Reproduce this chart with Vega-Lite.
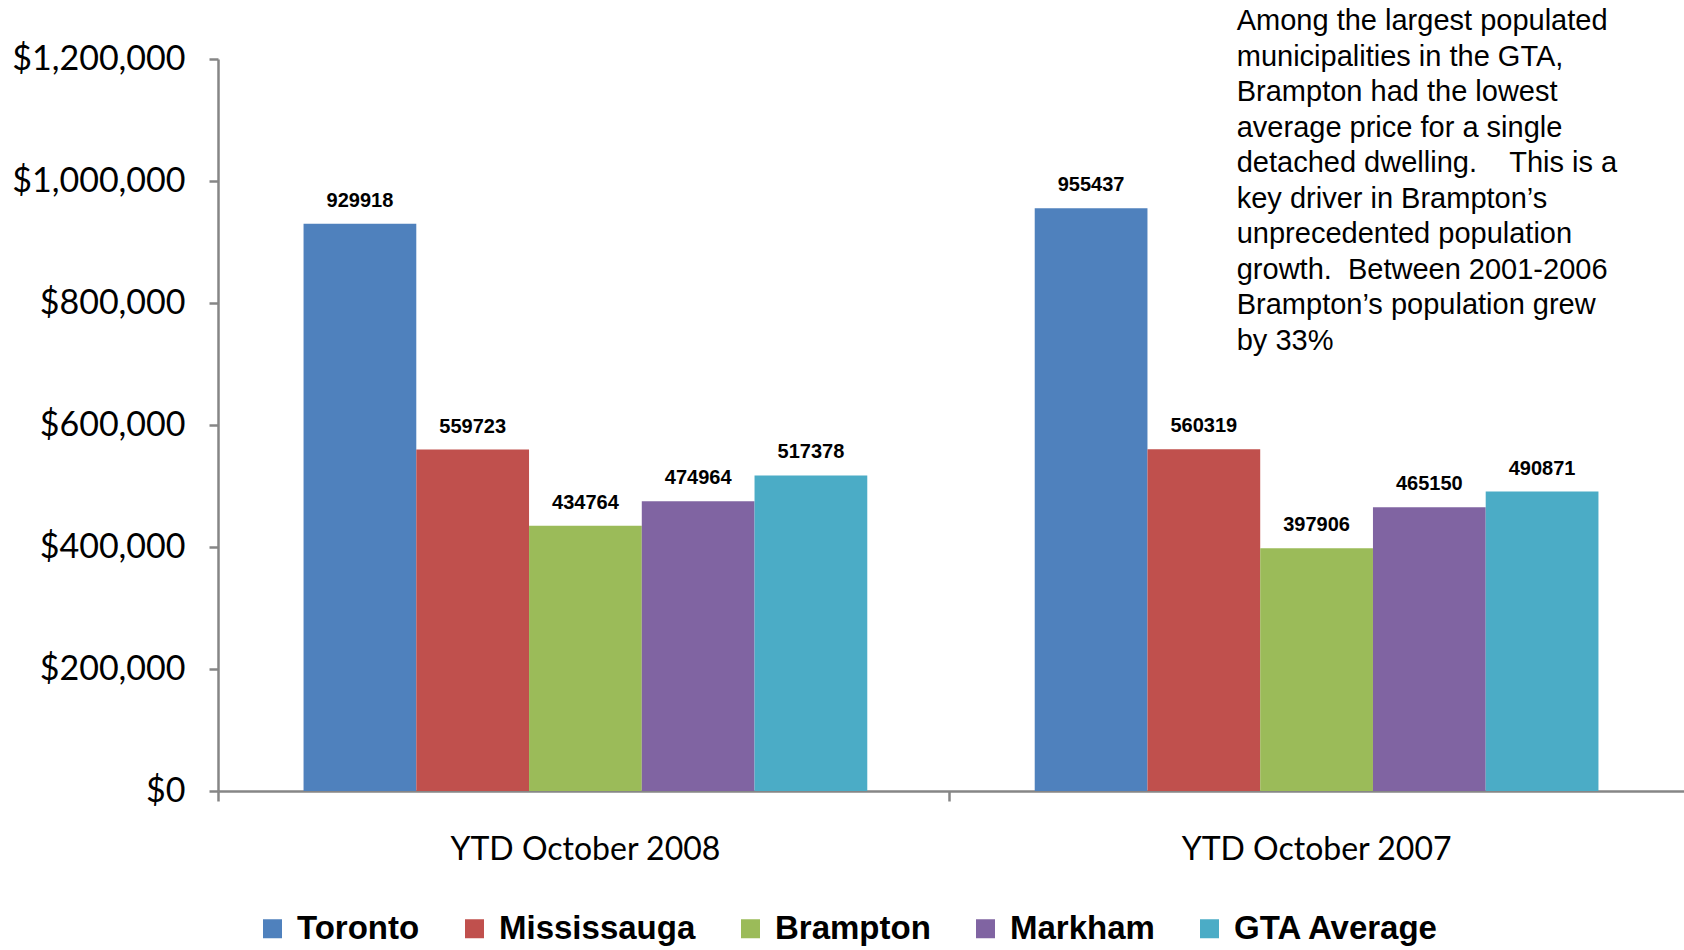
{
  "$schema": "https://vega.github.io/schema/vega-lite/v6.json",
  "width": 1466,
  "height": 732,
  "autosize": {"type": "none"},
  "padding": {"left": 218, "top": 59, "right": 0, "bottom": 159},
  "background": "white",
  "config": {
    "view": {"stroke": null},
    "axis": {"grid": false, "domainColor": "#868686", "tickColor": "#868686", "labelColor": "#000000"}
  },
  "data": {
    "values": [
      {"period": "YTD October 2008", "city": "Toronto", "price": 929918},
      {"period": "YTD October 2008", "city": "Mississauga", "price": 559723},
      {"period": "YTD October 2008", "city": "Brampton", "price": 434764},
      {"period": "YTD October 2008", "city": "Markham", "price": 474964},
      {"period": "YTD October 2008", "city": "GTA Average", "price": 517378},
      {"period": "YTD October 2007", "city": "Toronto", "price": 955437},
      {"period": "YTD October 2007", "city": "Mississauga", "price": 560319},
      {"period": "YTD October 2007", "city": "Brampton", "price": 397906},
      {"period": "YTD October 2007", "city": "Markham", "price": 465150},
      {"period": "YTD October 2007", "city": "GTA Average", "price": 490871}
    ]
  },
  "layer": [
    {
      "encoding": {
        "x": {
          "field": "period", "type": "nominal",
          "sort": ["YTD October 2008", "YTD October 2007"],
          "scale": {"paddingInner": 0.229, "paddingOuter": 0.117},
          "axis": {
            "title": null, "labelAngle": 0, "labelFont": "Lato", "labelFontSize": 32,
            "labelLimit": 600, "labelPadding": 33, "domainWidth": 2.5, "tickWidth": 2.5, "tickSize": 10,
            "bandPosition": -0.1517
          }
        },
        "xOffset": {
          "field": "city", "type": "nominal",
          "sort": ["Toronto", "Mississauga", "Brampton", "Markham", "GTA Average"],
          "scale": {"paddingInner": 0, "paddingOuter": 0}
        },
        "y": {
          "field": "price", "type": "quantitative",
          "scale": {"domain": [0, 1200000], "nice": false},
          "axis": {
            "title": null, "values": [0, 200000, 400000, 600000, 800000, 1000000, 1200000],
            "format": "$,.0f", "labelFont": "Lato", "labelFontSize": 34, "labelPadding": 24,
            "domainWidth": 2.5, "tickWidth": 2.5, "tickSize": 9
          }
        }
      },
      "layer": [
        {
          "mark": {"type": "bar"},
          "encoding": {
            "color": {
              "field": "city", "type": "nominal",
              "scale": {
                "domain": ["Toronto", "Mississauga", "Brampton", "Markham", "GTA Average"],
                "range": ["#4F81BD", "#C0504D", "#9BBB59", "#8064A2", "#4BACC6"]
              },
              "legend": {
                "title": null, "orient": "none", "direction": "horizontal",
                "legendX": 38, "legendY": 853,
                "symbolType": "square", "symbolSize": 361, "symbolStrokeWidth": 0,
                "labelFont": "Liberation Sans", "labelFontWeight": "bold", "labelFontSize": 33,
                "labelColor": "#000000", "labelLimit": 400, "labelOffset": 8, "columnPadding": 38
              }
            }
          }
        },
        {
          "mark": {"type": "text", "baseline": "bottom", "dy": -13, "font": "Liberation Sans", "fontWeight": "bold", "fontSize": 20, "color": "#000000"},
          "encoding": {
            "text": {"field": "price", "type": "quantitative", "format": "d"}
          }
        }
      ]
    },
    {
      "data": {"values": [{"note": "annotation"}]},
      "mark": {
        "type": "text", "align": "left", "baseline": "top", "dx": 202,
        "font": "Liberation Sans", "fontWeight": "normal", "fontSize": 29, "lineHeight": 35.5, "color": "#000000"
      },
      "encoding": {
        "x": {"datum": "YTD October 2007"},
        "xOffset": {"value": 0},
        "y": {"datum": 1285000},
        "text": {"value": [
          "Among the largest populated",
          "municipalities in the GTA,",
          "Brampton had the lowest",
          "average price for a single",
          "detached dwelling. \u00a0\u00a0\u00a0This is a",
          "key driver in Brampton’s",
          "unprecedented population",
          "growth. \u00a0Between 2001-2006",
          "Brampton’s population grew",
          "by 33%"
        ]}
      }
    }
  ]
}
